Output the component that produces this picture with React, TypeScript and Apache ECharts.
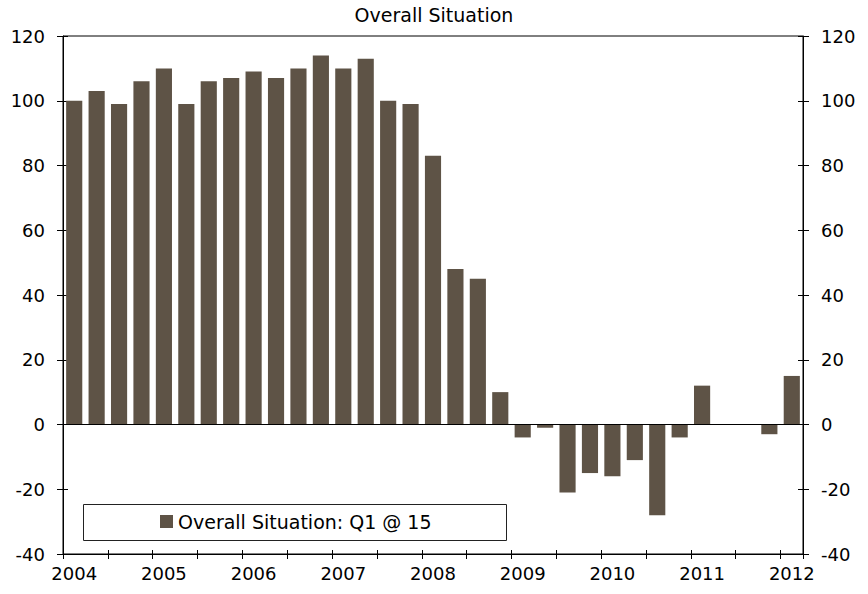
import React, { useEffect, useRef } from "react";
import * as echarts from "echarts";

const years = ["2004", "2005", "2006", "2007", "2008", "2009", "2010", "2011", "2012"];
const quarters: string[] = [];
years.forEach((y) => {
  ["Q1", "Q2", "Q3", "Q4"].forEach((q) => {
    if (y !== "2012" || q === "Q1") quarters.push(y + q);
  });
});

const overallSituation = [
  100, 103, 99, 106,
  110, 99, 106, 107,
  109, 107, 110, 114,
  110, 113, 100, 99,
  83, 48, 45, 10,
  -4, -1, -21, -15,
  -16, -11, -28, -4,
  12, 0, 0, -3,
  15,
];

const seriesName = "Overall Situation: Q1 @ 15";
const subtitle = "Overall Situation";
const yTicks = { min: -40, max: 120, interval: 20 };

const FONT = "DejaVu Sans";
const BAR = "#5e5346";

export default function App() {
  const ref = useRef<HTMLDivElement>(null);
  useEffect(() => {
    if (!ref.current) return;
    const chart = echarts.init(ref.current, null, { renderer: "svg" });
    const yBase = {
      type: "value" as const,
      min: yTicks.min,
      max: yTicks.max,
      interval: yTicks.interval,
      splitLine: { show: false },
    };
    chart.setOption({
      animation: false,
      textStyle: { fontFamily: FONT },
      title: {
        text: subtitle,
        left: "center",
        top: 5,
        padding: 0,
        textStyle: { fontFamily: FONT, fontSize: 19, fontWeight: "normal", color: "#000" },
      },
      grid: {
        left: 63,
        right: 65,
        top: 36,
        bottom: 40,
        show: true,
        borderColor: "#000",
        borderWidth: 1,
        backgroundColor: "transparent",
      },
      legend: {
        left: 160,
        top: 512,
        padding: 0,
        itemWidth: 13,
        itemHeight: 13,
        itemGap: 5,
        icon: "rect",
        textStyle: { fontFamily: FONT, fontSize: 19, color: "#000" },
        data: [seriesName],
      },
      graphic: [
        {
          type: "rect",
          left: 83,
          top: 504,
          shape: { width: 423, height: 36 },
          style: { fill: "#fff", stroke: "#222", lineWidth: 1 },
          z: -1,
        },
      ],
      xAxis: [
        {
          type: "category",
          data: quarters,
          boundaryGap: true,
          axisLine: { show: true, onZero: false, lineStyle: { color: "#000", width: 1 } },
          axisTick: { show: true, interval: 1, length: 5, lineStyle: { color: "#000" } },
          axisLabel: {
            interval: 3,
            margin: 10,
            fontSize: 18,
            color: "#000",
            fontFamily: FONT,
            formatter: (v: string) => v.slice(0, 4),
          },
        },
        {
          type: "category",
          data: quarters,
          position: "bottom",
          boundaryGap: true,
          axisLine: { show: false, onZero: false },
          axisTick: { show: true, inside: true, interval: 1, length: 4, lineStyle: { color: "#000" } },
          axisLabel: { show: false },
        },
      ],
      yAxis: [
        {
          ...yBase,
          position: "left",
          axisLine: { show: true, lineStyle: { color: "#000" } },
          axisTick: { show: true, length: 6, lineStyle: { color: "#000" } },
          axisLabel: { fontSize: 18, color: "#000", fontFamily: FONT, margin: 18 },
        },
        {
          ...yBase,
          position: "right",
          axisLine: { show: true, lineStyle: { color: "#000" } },
          axisTick: { show: true, length: 6, lineStyle: { color: "#000" } },
          axisLabel: { fontSize: 18, color: "#000", fontFamily: FONT, margin: 18 },
        },
        {
          ...yBase,
          position: "left",
          axisLine: { show: false },
          axisTick: { show: true, inside: true, length: 5, lineStyle: { color: "#000" } },
          axisLabel: { show: false },
        },
        {
          ...yBase,
          position: "right",
          axisLine: { show: false },
          axisTick: { show: true, inside: true, length: 5, lineStyle: { color: "#000" } },
          axisLabel: { show: false },
        },
      ],
      series: [
        {
          name: seriesName,
          type: "bar",
          data: overallSituation,
          barCategoryGap: "28%",
          itemStyle: { color: BAR },
          markLine: {
            silent: true,
            symbol: "none",
            label: { show: false },
            lineStyle: { color: "#000", type: "solid", width: 1 },
            data: [{ yAxis: 0 }],
          },
        },
      ],
    });
    return () => chart.dispose();
  }, []);
  return (
    <div
      ref={ref}
      style={{ position: "absolute", left: 0, top: 0, width: 868, height: 594, background: "#fff" }}
    />
  );
}
